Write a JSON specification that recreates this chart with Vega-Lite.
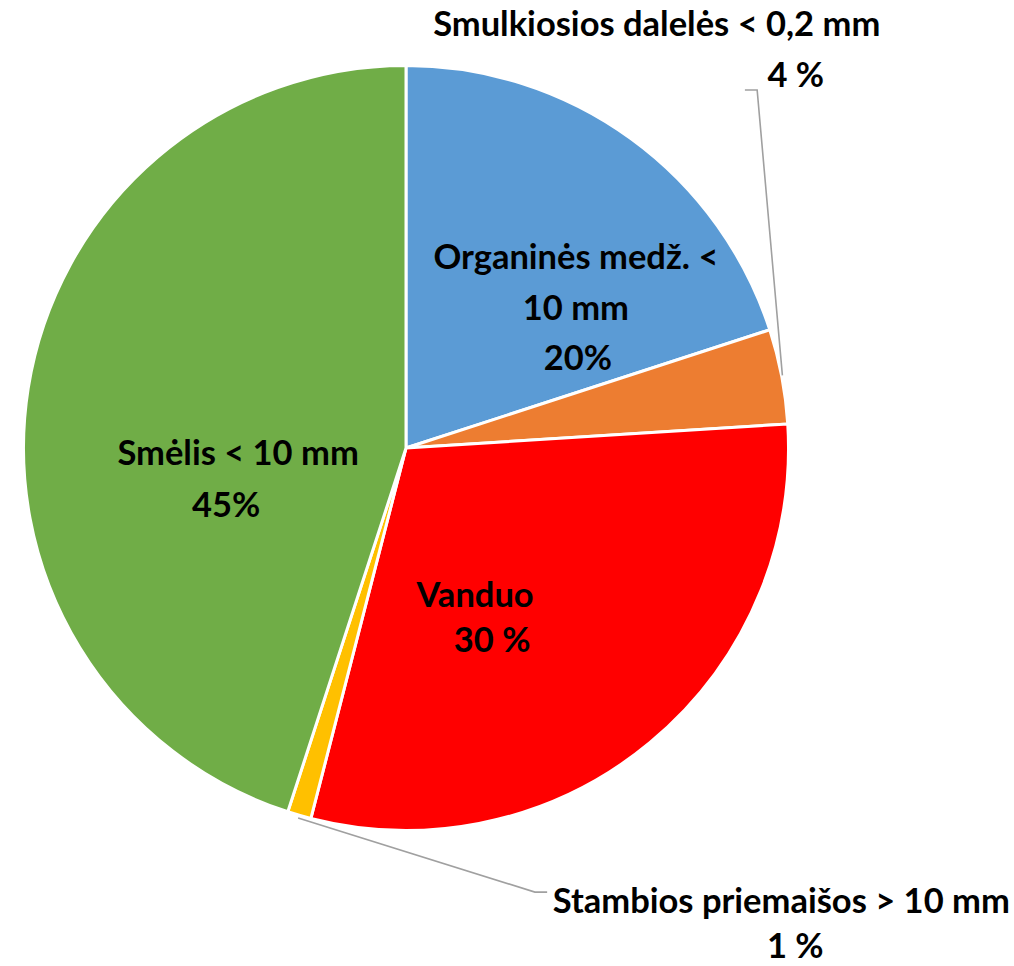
{
  "$schema": "https://vega.github.io/schema/vega-lite/v6.json",
  "width": 812,
  "height": 896,
  "autosize": {"type": "none"},
  "padding": {"left": 0, "top": 0, "right": 202, "bottom": 70},
  "background": "white",
  "config": {
    "view": {"stroke": null},
    "text": {"font": "Lato", "fontWeight": "bold", "fontSize": 34.5, "color": "#000000"}
  },
  "datasets": {
    "parts": [
      {"idx": 1, "cat": "Organinės medž. < 10 mm", "value": 20, "name": "Organinės medž. <\n10 mm", "pct": "20%"},
      {"idx": 2, "cat": "Smulkiosios dalelės < 0,2 mm", "value": 4, "name": "Smulkiosios dalelės < 0,2 mm", "pct": "4 %"},
      {"idx": 3, "cat": "Vanduo", "value": 30, "name": "Vanduo", "pct": "30 %"},
      {"idx": 4, "cat": "Stambios priemaišos > 10 mm", "value": 1, "name": "Stambios priemaišos > 10 mm", "pct": "1 %"},
      {"idx": 5, "cat": "Smėlis < 10 mm", "value": 45, "name": "Smėlis < 10 mm", "pct": "45%"}
    ],
    "leaders": [
      {"line": "a", "step": 1, "px": 0.886, "py": 0.936},
      {"line": "a", "step": 2, "px": 0.918, "py": 0.936},
      {"line": "a", "step": 3, "px": 0.984, "py": 0.190},
      {"line": "b", "step": 1, "px": -0.282, "py": -0.967},
      {"line": "b", "step": 2, "px": 0.337, "py": -1.161},
      {"line": "b", "step": 3, "px": 0.369, "py": -1.161}
    ]
  },
  "layer": [
    {
      "data": {"name": "parts"},
      "mark": {"type": "arc", "outerRadius": 382.5, "stroke": "white", "strokeWidth": 3},
      "encoding": {
        "theta": {"field": "value", "type": "quantitative", "stack": true},
        "order": {"field": "idx", "type": "quantitative"},
        "color": {
          "field": "cat", "type": "nominal", "legend": null,
          "scale": {
            "domain": ["Organinės medž. < 10 mm", "Smulkiosios dalelės < 0,2 mm", "Vanduo", "Stambios priemaišos > 10 mm", "Smėlis < 10 mm"],
            "range": ["#5B9BD5", "#ED7D31", "#FF0000", "#FFC000", "#70AD47"]
          }
        }
      }
    },
    {
      "data": {"name": "leaders"},
      "mark": {"type": "line", "color": "#A0A0A0", "strokeWidth": 1.6},
      "encoding": {
        "x": {"field": "px", "type": "quantitative", "axis": null, "scale": {"domain": [-1.0614, 1.0614], "nice": false, "zero": false}},
        "y": {"field": "py", "type": "quantitative", "axis": null, "scale": {"domain": [-1.1712, 1.1712], "nice": false, "zero": false}},
        "detail": {"field": "line", "type": "nominal"},
        "order": {"field": "step", "type": "quantitative"}
      }
    },
    {
      "data": {"name": "parts"},
      "mark": {"type": "text", "radius": 221, "dx": 40, "dy": 0, "align": "center", "baseline": "alphabetic", "lineBreak": "\n", "lineHeight": 51},
      "encoding": {
        "theta": {"field": "value", "type": "quantitative", "stack": true},
        "order": {"field": "idx", "type": "quantitative"},
        "detail": {"field": "cat", "type": "nominal"},
        "text": {"condition": {"test": "datum.idx == 1", "field": "name"}, "value": ""}
      }
    },
    {
      "data": {"name": "parts"},
      "mark": {"type": "text", "radius": 221, "dx": 42, "dy": 101, "align": "center", "baseline": "alphabetic"},
      "encoding": {
        "theta": {"field": "value", "type": "quantitative", "stack": true},
        "order": {"field": "idx", "type": "quantitative"},
        "detail": {"field": "cat", "type": "nominal"},
        "text": {"condition": {"test": "datum.idx == 1", "field": "pct"}, "value": ""}
      }
    },
    {
      "data": {"name": "parts"},
      "mark": {"type": "text", "radius": 382.5, "dx": -125, "dy": -340, "align": "center", "baseline": "alphabetic"},
      "encoding": {
        "theta": {"field": "value", "type": "quantitative", "stack": true},
        "order": {"field": "idx", "type": "quantitative"},
        "detail": {"field": "cat", "type": "nominal"},
        "text": {"condition": {"test": "datum.idx == 2", "field": "name"}, "value": ""}
      }
    },
    {
      "data": {"name": "parts"},
      "mark": {"type": "text", "radius": 382.5, "dx": 14, "dy": -289, "align": "center", "baseline": "alphabetic"},
      "encoding": {
        "theta": {"field": "value", "type": "quantitative", "stack": true},
        "order": {"field": "idx", "type": "quantitative"},
        "detail": {"field": "cat", "type": "nominal"},
        "text": {"condition": {"test": "datum.idx == 2", "field": "pct"}, "value": ""}
      }
    },
    {
      "data": {"name": "parts"},
      "mark": {"type": "text", "radius": 190, "dx": -52, "dy": 13, "align": "center", "baseline": "alphabetic"},
      "encoding": {
        "theta": {"field": "value", "type": "quantitative", "stack": true},
        "order": {"field": "idx", "type": "quantitative"},
        "detail": {"field": "cat", "type": "nominal"},
        "text": {"condition": {"test": "datum.idx == 3", "field": "name"}, "value": ""}
      }
    },
    {
      "data": {"name": "parts"},
      "mark": {"type": "text", "radius": 190, "dx": -35, "dy": 58, "align": "center", "baseline": "alphabetic"},
      "encoding": {
        "theta": {"field": "value", "type": "quantitative", "stack": true},
        "order": {"field": "idx", "type": "quantitative"},
        "detail": {"field": "cat", "type": "nominal"},
        "text": {"condition": {"test": "datum.idx == 3", "field": "pct"}, "value": ""}
      }
    },
    {
      "data": {"name": "parts"},
      "mark": {"type": "text", "radius": 382.5, "dx": 482, "dy": 98, "align": "center", "baseline": "alphabetic"},
      "encoding": {
        "theta": {"field": "value", "type": "quantitative", "stack": true},
        "order": {"field": "idx", "type": "quantitative"},
        "detail": {"field": "cat", "type": "nominal"},
        "text": {"condition": {"test": "datum.idx == 4", "field": "name"}, "value": ""}
      }
    },
    {
      "data": {"name": "parts"},
      "mark": {"type": "text", "radius": 382.5, "dx": 496, "dy": 143, "align": "center", "baseline": "alphabetic"},
      "encoding": {
        "theta": {"field": "value", "type": "quantitative", "stack": true},
        "order": {"field": "idx", "type": "quantitative"},
        "detail": {"field": "cat", "type": "nominal"},
        "text": {"condition": {"test": "datum.idx == 4", "field": "pct"}, "value": ""}
      }
    },
    {
      "data": {"name": "parts"},
      "mark": {"type": "text", "radius": 170, "dx": 0, "dy": 44, "align": "center", "baseline": "alphabetic"},
      "encoding": {
        "theta": {"field": "value", "type": "quantitative", "stack": true},
        "order": {"field": "idx", "type": "quantitative"},
        "detail": {"field": "cat", "type": "nominal"},
        "text": {"condition": {"test": "datum.idx == 5", "field": "name"}, "value": ""}
      }
    },
    {
      "data": {"name": "parts"},
      "mark": {"type": "text", "radius": 170, "dx": -12, "dy": 96, "align": "center", "baseline": "alphabetic"},
      "encoding": {
        "theta": {"field": "value", "type": "quantitative", "stack": true},
        "order": {"field": "idx", "type": "quantitative"},
        "detail": {"field": "cat", "type": "nominal"},
        "text": {"condition": {"test": "datum.idx == 5", "field": "pct"}, "value": ""}
      }
    }
  ]
}
